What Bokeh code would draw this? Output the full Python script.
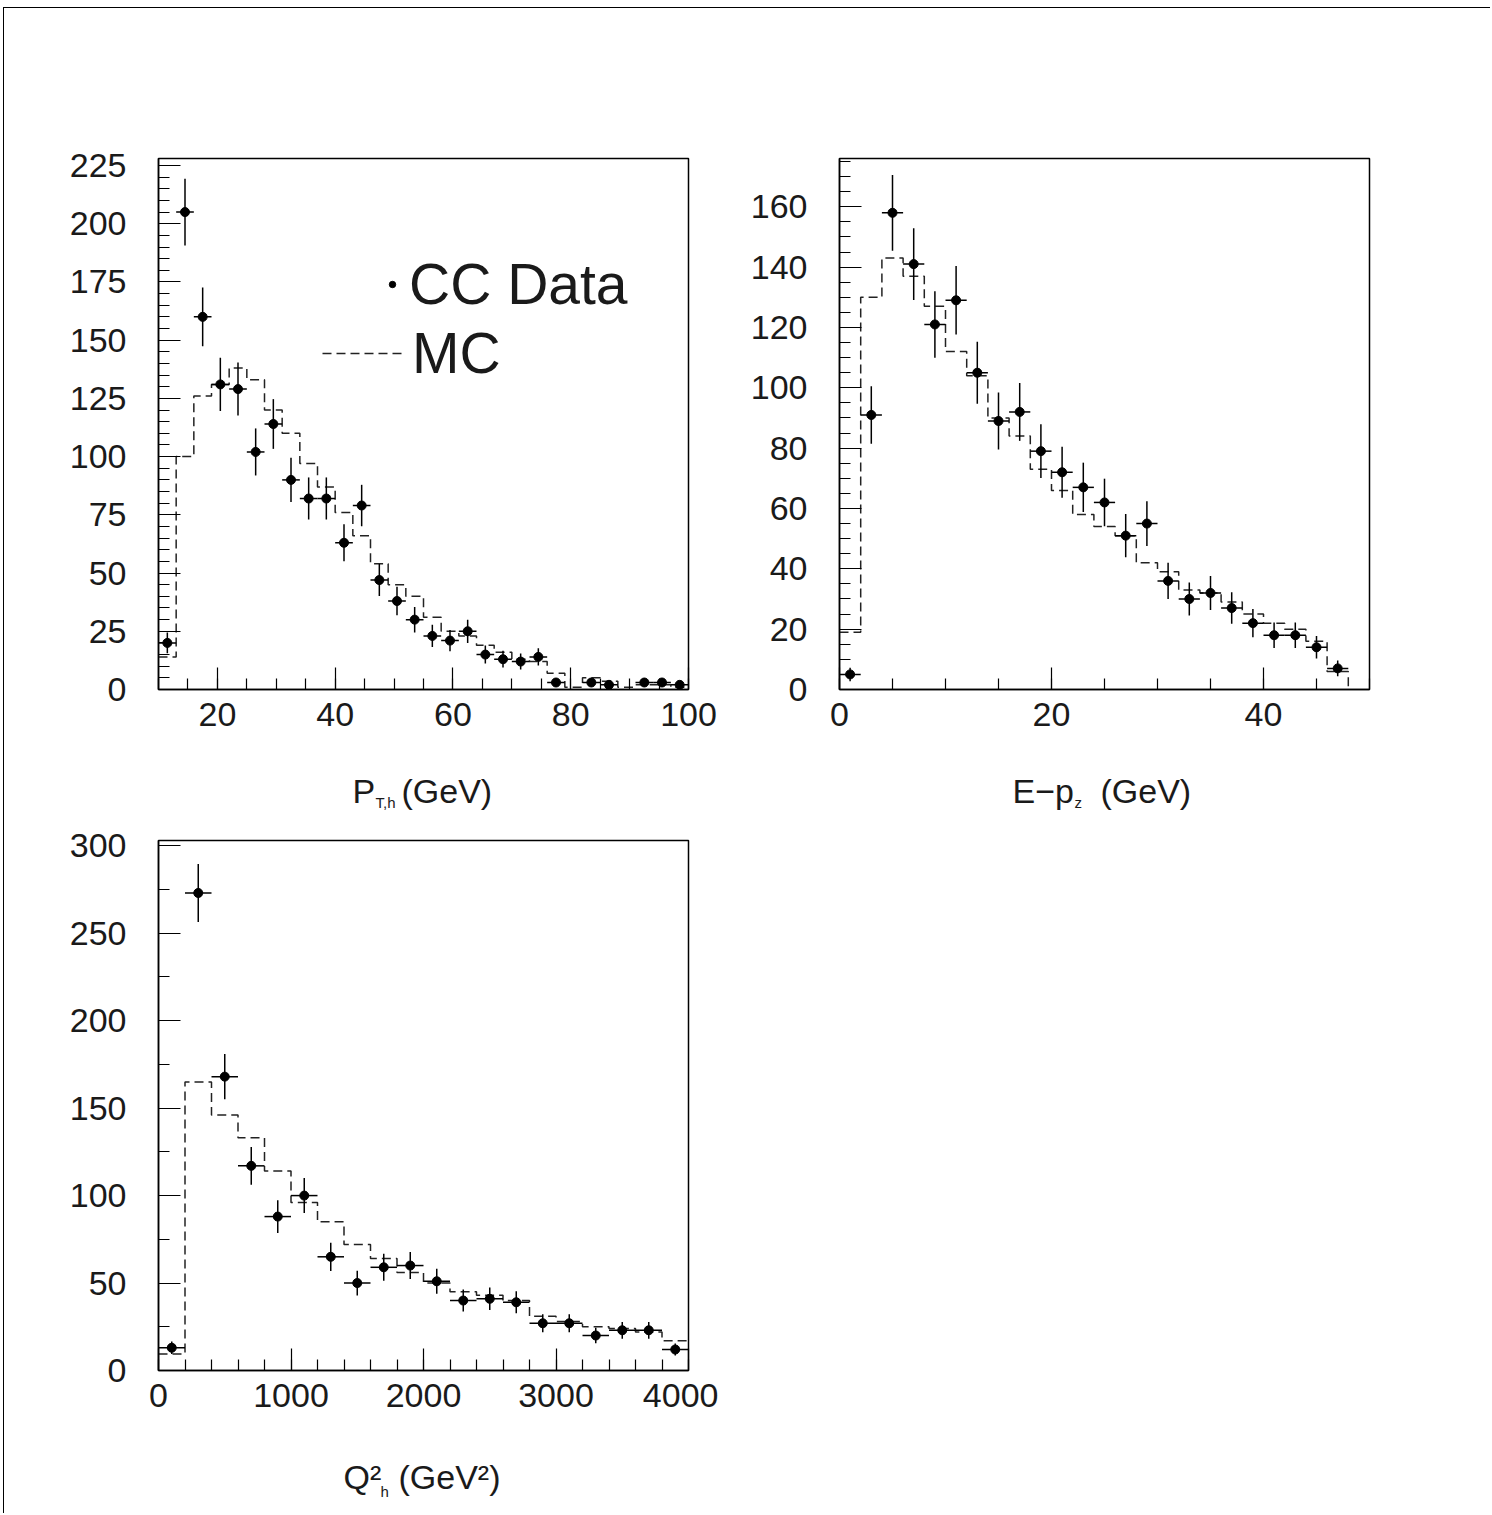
import numpy as np
from bokeh.plotting import figure
from bokeh.models import (Range1d, SingleIntervalTicker, Label, Legend, LegendItem,
                          ColumnDataSource)
from bokeh.layouts import column, row
from bokeh.embed import file_html
from bokeh.resources import INLINE

# ---------------- data ----------------
pt_edges = [10, 13, 16, 19, 22, 25, 28, 31, 34, 37, 40, 43, 46, 49, 52, 55, 58, 61, 64, 67,
            70, 73, 76, 79, 82, 85, 88, 91, 94, 97, 100]
pt_data = [20, 205, 160, 131, 129, 102, 114, 90, 82, 82, 63, 79, 47, 38, 30, 23, 21, 25, 15, 13,
           12, 14, 3, 0, 3, 2, 0, 3, 3, 2]
pt_mc = [14, 100, 126, 131, 138, 133, 120, 110, 97, 87, 76, 66, 54, 45, 40, 31, 25, 23, 19, 16,
         13, 12, 7, 1, 5, 3.5, 1, 2, 2, 1]

epz_edges = [0, 2, 4, 6, 8, 10, 12, 14, 16, 18, 20, 22, 24, 26, 28, 30, 32, 34, 36, 38, 40,
             42, 44, 46, 48]
epz_data = [5, 91, 158, 141, 121, 129, 105, 89, 92, 79, 72, 67, 62, 51, 55, 36, 30, 32, 27, 22,
            18, 18, 14, 7]
epz_mc = [19, 130, 143, 137, 127, 112, 104, 90, 84, 73, 66, 58, 54, 51, 42, 39, 33, 32, 29, 25,
          22, 20, 16, 6]

q2_edges = [0, 200, 400, 600, 800, 1000, 1200, 1400, 1600, 1800, 2000, 2200, 2400, 2600, 2800,
            3000, 3200, 3400, 3600, 3800, 4000]
q2_data = [13, 273, 168, 117, 88, 100, 65, 50, 59, 60, 51, 40, 41, 39, 27, 27, 20, 23, 23, 12]
q2_mc = [9.5, 165, 146, 133, 114, 96, 85, 72, 64, 56, 50, 45, 43, 40, 31, 28, 25, 24, 22, 17]

FONT = "Liberation Sans"
TXT = "#1a1a1a"


def make_fig(xr, yr, xint, xminor, yint, yminor, width, height, bl, br, bt, bb):
    p = figure(width=width, height=height, x_range=Range1d(*xr), y_range=Range1d(*yr),
               output_backend="svg", toolbar_location=None,
               min_border_left=bl, min_border_right=br, min_border_top=bt, min_border_bottom=bb)
    p.xgrid.visible = False
    p.ygrid.visible = False
    p.outline_line_color = "black"
    p.outline_line_width = 1.5
    p.xaxis.ticker = SingleIntervalTicker(interval=xint, num_minor_ticks=xminor)
    p.yaxis.ticker = SingleIntervalTicker(interval=yint, num_minor_ticks=yminor)
    for ax in (p.xaxis[0], p.yaxis[0]):
        ax.major_tick_in = 22
        ax.major_tick_out = 0
        ax.minor_tick_in = 11
        ax.minor_tick_out = 0
        ax.axis_line_color = "black"
        ax.axis_line_width = 1.5
        ax.major_tick_line_color = "black"
        ax.major_tick_line_width = 1.2
        ax.minor_tick_line_color = "black"
        ax.minor_tick_line_width = 1.2
        ax.major_label_text_font = FONT
        ax.major_label_text_font_size = "34px"
        ax.major_label_text_color = TXT
    p.xaxis.major_label_standoff = 13
    p.yaxis.major_label_standoff = 32
    return p


def make_strip(width, height, bl, br):
    s = figure(width=width, height=height, x_range=Range1d(0, 1), y_range=Range1d(0, 1),
               x_axis_type=None, y_axis_type=None, output_backend="svg",
               toolbar_location=None, min_border_left=bl, min_border_right=br,
               min_border_top=0, min_border_bottom=0)
    s.outline_line_color = None
    s.xgrid.visible = False
    s.ygrid.visible = False
    return s


def draw_panel(p, edges, data, mc, drop_end=False):
    e = np.asarray(edges, float)
    d = np.asarray(data, float)
    m_c = np.asarray(mc, float)
    centers = 0.5 * (e[:-1] + e[1:])
    err = np.sqrt(d)
    m = d > 0
    src = ColumnDataSource(dict(x=centers[m], y=d[m], lo=(d - err)[m], hi=(d + err)[m],
                                xl=e[:-1][m], xr=e[1:][m]))
    ystep = np.append(m_c, 0.0 if drop_end else m_c[-1])
    mc_r = p.step(x=e, y=ystep, mode="after", line_dash="9 5", line_color="#222",
                  line_width=1.5)
    p.segment(x0="x", y0="lo", x1="x", y1="hi", source=src, line_color="black", line_width=1.5)
    p.segment(x0="xl", y0="y", x1="xr", y1="y", source=src, line_color="black", line_width=1.5)
    dat_r = p.scatter("x", "y", source=src, size=9, marker="circle", fill_color="black",
                      line_color="black")
    return dat_r, mc_r


def add_text(p, x, y, text, size):
    p.add_layout(Label(x=x, y=y, x_units="screen", y_units="screen", text=text,
                       text_font=FONT, text_font_size=size, text_color=TXT,
                       text_align="left", text_baseline="middle"))


W1, W2 = 714, 772
BL1, BR1, BL2, BR2 = 154, 30, 121, 121

# Panel 1: P_T,h
p1 = make_fig((10, 100), (0, 228), 20, 4, 25, 5, W1, 736, BL1, BR1, 150, 55)
d1, m1 = draw_panel(p1, pt_edges, pt_data, pt_mc)

leg_data = Legend(items=[LegendItem(label="CC Data", renderers=[d1])], location=(226, 372),
                  glyph_width=16, glyph_height=16, label_standoff=9, padding=0, margin=0,
                  border_line_color=None, background_fill_alpha=0,
                  label_text_font=FONT, label_text_font_size="57px", label_text_color=TXT)
leg_mc = Legend(items=[LegendItem(label="MC", renderers=[m1])], location=(164, 303),
                glyph_width=80, glyph_height=16, label_standoff=10, padding=0, margin=0,
                border_line_color=None, background_fill_alpha=0,
                label_text_font=FONT, label_text_font_size="57px", label_text_color=TXT)
p1.add_layout(leg_data)
p1.add_layout(leg_mc)

# Panel 2: E-pz
p2 = make_fig((0, 50), (0, 176), 20, 4, 20, 4, W2, 736, BL2, BR2, 150, 55)
draw_panel(p2, epz_edges, epz_data, epz_mc, drop_end=True)

# axis-title strips under the top panels
t1 = make_strip(W1, 71, BL1, BR1)
add_text(t1, 194, 25, "P", "34px")
add_text(t1, 217, 13, "T,h", "15px")
add_text(t1, 243, 25, "(GeV)", "34px")

t2 = make_strip(W2, 71, BL2, BR2)
add_text(t2, 173, 25, "E\u2212p", "34px")
add_text(t2, 235, 13, "z", "15px")
add_text(t2, 261, 25, "(GeV)", "34px")

# Panel 3: Q2_h
p3 = make_fig((0, 4000), (0, 303), 1000, 5, 50, 2, W1, 610, BL1, BR1, 25, 55)
draw_panel(p3, q2_edges, q2_data, q2_mc)

t3 = make_strip(W1, 88, BL1, BR1)
add_text(t3, 185, 37, "Q\u00b2", "34px")
add_text(t3, 222, 22, "h", "15px")
add_text(t3, 240, 37, "(GeV\u00b2)", "34px")

layout = column(row(p1, p2), row(t1, t2), p3, t3)
layout.styles = {"border-top": "1px solid black", "border-left": "1px solid black",
                 "margin-left": "3px", "margin-top": "7px"}

open("out.html", "w").write(file_html(layout, INLINE))
